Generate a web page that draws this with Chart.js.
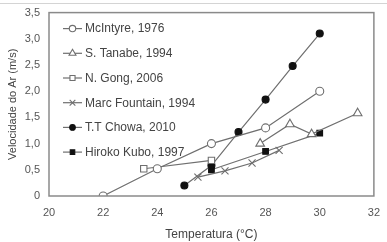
<!DOCTYPE html>
<html>
<head>
<meta charset="utf-8">
<script src="https://cdn.jsdelivr.net/npm/chart.js@4"></script>
<style>
  html, body { margin: 0; padding: 0; background: #fff; }
  .wrap { position: relative; width: 387px; height: 242px; }
  .topline { position: absolute; left: 0; top: 3px; width: 387px; border-top: 1px solid #d4d4d4; }
</style>
</head>
<body>
<div class="wrap">
  <div class="topline"></div>
  <canvas id="chart" width="387" height="242"></canvas>
</div>
<script>
// values
const seriesNames = ['McIntyre, 1976', 'S. Tanabe, 1994', 'N. Gong, 2006', 'Marc Fountain, 1994', 'T.T Chowa, 2010', 'Hiroko Kubo, 1997'];

const mcintyreTemp = [22, 24, 26, 28, 30];
const mcintyreVel = [0, 0.52, 1.0, 1.3, 2.0];

const tanabeTemp = [27.8, 28.9, 29.7, 31.4];
const tanabeVel = [1.0, 1.37, 1.18, 1.58];

const gongTemp = [23.5, 26];
const gongVel = [0.52, 0.68];

const fountainTemp = [25.5, 26.5, 27.5, 28.5];
const fountainVel = [0.36, 0.48, 0.63, 0.87];

const chowaTemp = [25, 26, 27, 28, 29, 30];
const chowaVel = [0.2, 0.58, 1.22, 1.84, 2.48, 3.1];

const kuboTemp = [26, 28, 30];
const kuboVel = [0.5, 0.85, 1.2];

const xTicks = [20, 22, 24, 26, 28, 30, 32];
const yTicks = [0, 0.5, 1.0, 1.5, 2.0, 2.5, 3.0, 3.5];

const lineGray = '#6f6f6f';

function toPoints(xs, ys) {
    return xs.map((x, i) => ({ x: x, y: ys[i] }));
}

function makeSet(label, xs, ys, style, radius, filled) {
    return {
        label: label,
        data: toPoints(xs, ys),
        borderColor: lineGray,
        borderWidth: 1.2,
        pointStyle: style,
        pointRadius: radius,
        pointBorderWidth: 1.1,
        pointBorderColor: filled ? '#111' : lineGray,
        pointBackgroundColor: filled ? '#111' : '#fff',
        showLine: true,
        tension: 0
    };
}

const datasets = [
    makeSet(seriesNames[0], mcintyreTemp, mcintyreVel, 'circle', 4, false),
    makeSet(seriesNames[1], tanabeTemp, tanabeVel, 'triangle', 5, false),
    makeSet(seriesNames[2], gongTemp, gongVel, 'rect', 4.5, false),
    makeSet(seriesNames[3], fountainTemp, fountainVel, 'crossRot', 5, false),
    makeSet(seriesNames[4], chowaTemp, chowaVel, 'circle', 3.5, true),
    makeSet(seriesNames[5], kuboTemp, kuboVel, 'rect', 4, true)
];

// frame around the plot and the legend inside it
const framePlugin = {
    id: 'frame',
    afterDraw(chart) {
        const c = chart.ctx;
        const a = chart.chartArea;
        c.save();
        c.strokeStyle = '#8a8a8a';
        c.lineWidth = 1.5;
        c.strokeRect(a.left, a.top, a.right - a.left, a.bottom - a.top);

        // legend
        c.font = '12px "Liberation Sans", Arial, sans-serif';
        c.textBaseline = 'middle';
        c.fillStyle = '#444';
        chart.data.datasets.forEach((ds, i) => {
            const y = a.top + 16 + i * 24.7;
            const x0 = a.left + 14;
            c.strokeStyle = lineGray;
            c.lineWidth = 1.2;
            c.beginPath();
            c.moveTo(x0, y);
            c.lineTo(x0 + 19, y);
            c.stroke();
            c.fillStyle = ds.pointBackgroundColor;
            c.strokeStyle = ds.pointBorderColor;
            c.lineWidth = 1.1;
            Chart.helpers.drawPoint(c, { pointStyle: ds.pointStyle, radius: ds.pointRadius * 0.8, borderWidth: 1.1 }, x0 + 9.5, y);
            c.fillStyle = '#444';
            c.fillText(ds.label, x0 + 22, y + 0.5);
        });
        c.restore();
    }
};

const tickFont = { family: '"Liberation Sans", Arial, sans-serif', size: 11 };

new Chart(document.getElementById('chart').getContext('2d'), {
    type: 'scatter',
    data: { datasets: datasets },
    options: {
        responsive: false,
        animation: false,
        layout: { padding: { left: 0, right: 6, top: 9, bottom: 0 } },
        plugins: { legend: { display: false }, tooltip: { enabled: false } },
        scales: {
            x: {
                type: 'linear',
                min: 20,
                max: 32,
                afterBuildTicks: s => { s.ticks = xTicks.map(v => ({ value: v })); },
                afterFit: s => { s.height = 46; },
                grid: { display: false, drawTicks: true, tickLength: 3 },
                border: { display: false },
                ticks: { color: '#555', font: tickFont, padding: 7, maxRotation: 0 },
                title: {
                    display: true,
                    text: 'Temperatura (°C)',
                    color: '#444',
                    font: { family: '"Liberation Sans", Arial, sans-serif', size: 12 },
                    padding: { top: 6, bottom: 0 }
                }
            },
            y: {
                min: 0,
                max: 3.5,
                afterBuildTicks: s => { s.ticks = yTicks.map(v => ({ value: v })); },
                afterFit: s => { s.width = 49; },
                grid: { display: false, drawTicks: true, tickLength: 3 },
                border: { display: false },
                ticks: {
                    color: '#555',
                    font: tickFont,
                    padding: 6,
                    callback: v => v === 0 ? '0' : v.toFixed(1).replace('.', ',')
                },
                title: {
                    display: true,
                    text: 'Velocidade do Ar (m/s)',
                    color: '#444',
                    font: { family: '"Liberation Sans", Arial, sans-serif', size: 11 },
                    padding: { top: 6, bottom: 0 }
                }
            }
        }
    },
    plugins: [framePlugin]
});
</script>
</body>
</html>
